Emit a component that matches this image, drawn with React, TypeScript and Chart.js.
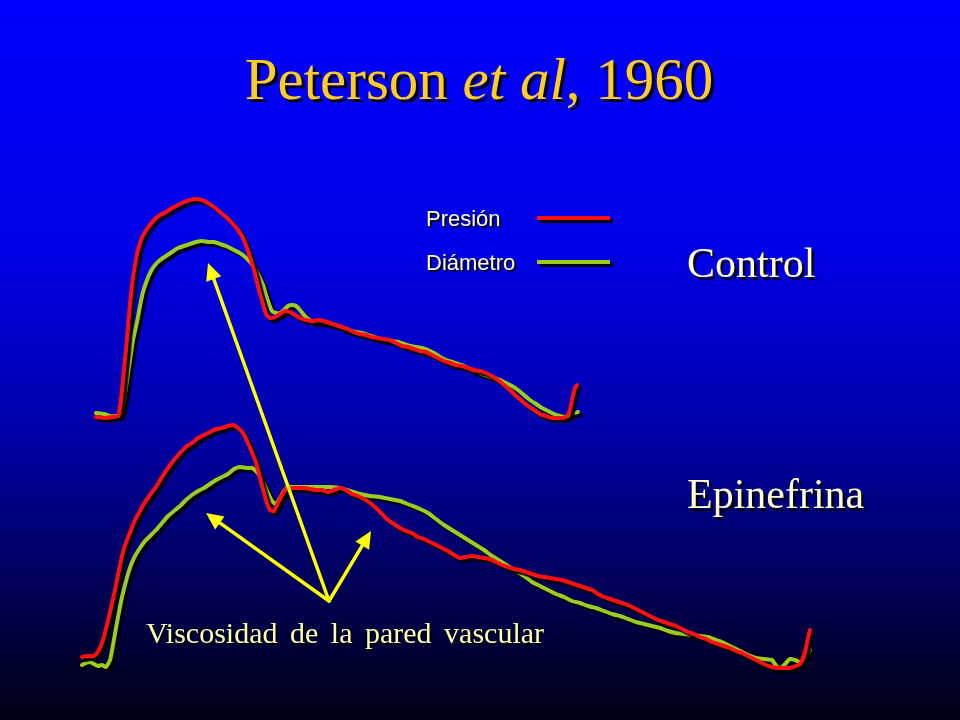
import { useEffect, useRef } from "react";
import { Chart, registerables } from "chart.js";

Chart.register(...registerables);

// Time (horizontal) / amplitude (vertical, downward) samples
const controlPresion: [number, number][] = [
  [96, 417], [104, 418], [112, 417], [118, 416], [121, 400], [123, 380], [126, 350], [129, 315], [132, 285], [135, 265],
  [138, 250], [141, 240], [145, 232], [150, 225], [155, 219], [160, 215], [166, 212], [172, 208], [178, 205], [184, 202],
  [190, 200], [196, 199], [202, 200], [208, 203], [214, 207], [220, 212], [226, 217], [232, 223], [238, 230], [243, 238],
  [247, 248], [251, 260], [255, 274], [259, 290], [263, 304], [266, 314], [270, 318], [275, 317], [280, 314], [285, 311],
  [290, 312], [295, 315], [300, 318], [306, 320], [312, 321], [318, 320], [324, 321], [330, 323], [336, 325], [342, 327],
  [348, 329], [354, 332], [360, 334], [366, 335], [372, 337], [378, 338], [384, 339], [390, 340], [396, 343], [402, 346],
  [408, 347], [414, 349], [420, 351], [426, 352], [432, 355], [438, 358], [444, 361], [450, 363], [456, 365], [462, 366],
  [468, 368], [474, 370], [480, 371], [486, 373], [492, 376], [498, 380], [504, 385], [510, 390], [516, 396], [522, 401],
  [528, 406], [534, 410], [540, 414], [546, 416], [552, 418], [558, 418], [563, 418], [567, 416], [570, 410], [572, 400],
  [575, 388], [577, 385],
];

const controlDiametro: [number, number][] = [
  [96, 413], [104, 414], [110, 416], [116, 416], [121, 414], [124, 400], [127, 380], [130, 360], [133, 340], [137, 322],
  [140, 306], [143, 292], [147, 280], [151, 271], [155, 265], [160, 260], [166, 256], [172, 252], [178, 248], [184, 246],
  [190, 244], [196, 242], [202, 241], [208, 242], [214, 242], [220, 244], [226, 246], [232, 249], [238, 252], [244, 256],
  [250, 262], [255, 268], [259, 276], [263, 285], [266, 295], [269, 304], [272, 311], [276, 313], [280, 313], [284, 310],
  [288, 306], [292, 305], [296, 306], [300, 310], [304, 315], [308, 319], [314, 322], [320, 322], [326, 323], [332, 324],
  [338, 326], [344, 329], [350, 331], [356, 332], [362, 333], [368, 335], [374, 337], [380, 339], [386, 340], [392, 341],
  [398, 342], [404, 344], [410, 346], [416, 347], [422, 348], [428, 350], [434, 353], [440, 357], [446, 360], [452, 362],
  [458, 364], [464, 366], [470, 369], [476, 372], [482, 374], [488, 376], [494, 378], [500, 380], [506, 383], [512, 386],
  [518, 390], [524, 395], [530, 400], [536, 404], [542, 408], [548, 411], [554, 414], [560, 416], [565, 417], [570, 415],
  [574, 413], [578, 412],
];

const epiPresion: [number, number][] = [
  [82, 657], [88, 656], [94, 656], [99, 650], [103, 640], [107, 625], [111, 608], [115, 590], [119, 570], [123, 552],
  [127, 540], [131, 530], [135, 520], [140, 511], [145, 502], [150, 495], [156, 487], [162, 477], [168, 468], [174, 460],
  [180, 453], [186, 447], [192, 443], [198, 438], [204, 435], [210, 432], [216, 429], [222, 428], [228, 426], [233, 425],
  [238, 428], [243, 433], [247, 441], [251, 450], [255, 460], [258, 470], [261, 482], [264, 493], [267, 503], [270, 510],
  [274, 511], [278, 503], [282, 495], [286, 489], [292, 488], [298, 488], [304, 488], [310, 489], [316, 490], [322, 490],
  [328, 492], [334, 490], [340, 488], [346, 490], [352, 494], [358, 496], [364, 499], [370, 503], [376, 508], [382, 514],
  [388, 520], [394, 524], [400, 528], [406, 531], [412, 533], [418, 537], [424, 539], [430, 542], [436, 545], [442, 548],
  [448, 551], [454, 555], [460, 558], [466, 557], [472, 556], [478, 557], [484, 558], [490, 559], [496, 562], [502, 565],
  [508, 567], [514, 569], [520, 570], [526, 572], [532, 574], [538, 576], [544, 577], [550, 578], [556, 579], [562, 580],
  [568, 582], [574, 584], [580, 586], [586, 588], [592, 590], [598, 594], [604, 597], [610, 599], [616, 601], [622, 603],
  [628, 605], [634, 608], [640, 611], [646, 614], [652, 617], [658, 620], [664, 622], [670, 624], [676, 626], [682, 629],
  [688, 632], [694, 634], [700, 637], [706, 639], [712, 642], [718, 644], [724, 646], [730, 648], [736, 651], [742, 653],
  [748, 656], [754, 659], [760, 662], [766, 665], [772, 667], [778, 668], [784, 668], [790, 668], [796, 666], [800, 664],
  [803, 658], [806, 648], [808, 638], [810, 630],
];

const epiDiametro: [number, number][] = [
  [82, 665], [86, 663], [90, 662], [94, 664], [98, 666], [102, 665], [106, 667], [110, 660], [113, 645], [116, 628],
  [119, 612], [122, 597], [125, 585], [128, 574], [131, 565], [135, 556], [140, 548], [145, 541], [150, 536], [156, 530],
  [162, 523], [168, 516], [174, 511], [180, 506], [186, 500], [192, 495], [198, 491], [204, 488], [210, 484], [216, 480],
  [222, 477], [228, 474], [234, 469], [240, 467], [246, 468], [252, 468], [256, 471], [260, 476], [264, 484], [268, 493],
  [272, 501], [276, 504], [280, 498], [284, 491], [288, 487], [294, 487], [300, 487], [310, 487], [320, 487], [330, 487],
  [340, 488], [350, 491], [360, 494], [370, 496], [380, 497], [390, 499], [400, 501], [410, 505], [420, 509], [428, 513],
  [436, 519], [444, 525], [452, 530], [460, 535], [468, 540], [476, 545], [484, 550], [492, 556], [500, 561], [508, 566],
  [516, 571], [524, 576], [532, 582], [540, 586], [548, 590], [556, 594], [564, 597], [572, 601], [580, 603], [588, 606],
  [596, 608], [604, 611], [612, 614], [620, 616], [628, 619], [636, 622], [644, 624], [652, 626], [660, 628], [668, 631],
  [676, 633], [684, 634], [692, 635], [700, 636], [708, 637], [716, 640], [724, 643], [732, 647], [740, 651], [748, 655],
  [756, 658], [764, 659], [772, 660], [777, 667], [781, 668], [786, 663], [790, 659], [795, 660], [800, 662], [805, 658],
  [810, 650],
];

const seriesLabels = ["Presión", "Diámetro"];
const seriesColors = ["#ff1010", "#9acd1e"];
const groupLabels = ["Control", "Epinefrina"];
const titleParts = ["Peterson ", "et al", ", 1960"];
const noteText = "Viscosidad de la pared vascular";
// arrow: apex (tail) and targets, in the same time/amplitude units
const arrowTail: [number, number] = [329, 601];
const arrowTips: [number, number][] = [[208, 263], [206, 513], [371, 531]];

const toPts = (a: [number, number][]) => a.map(([x, y]) => ({ x, y }));

const slidePlugin = {
  id: "slide",
  beforeDraw(chart: any) {
    const { ctx, width, height } = chart;
    const g = ctx.createLinearGradient(0, 0, 0, height);
    g.addColorStop(0, "#0000ff");
    g.addColorStop(0.35, "#0000e6");
    g.addColorStop(0.6, "#0000a8");
    g.addColorStop(0.85, "#00004a");
    g.addColorStop(1, "#000012");
    ctx.save();
    ctx.fillStyle = g;
    ctx.fillRect(0, 0, width, height);
    ctx.restore();
  },
  beforeDatasetDraw(chart: any) {
    const ctx = chart.ctx;
    ctx.save();
    ctx.shadowColor = "rgba(0,0,0,0.9)";
    ctx.shadowOffsetX = 3;
    ctx.shadowOffsetY = 3;
    ctx.shadowBlur = 1;
  },
  afterDatasetDraw(chart: any) {
    chart.ctx.restore();
  },
  afterDatasetsDraw(chart: any) {
    const ctx: CanvasRenderingContext2D = chart.ctx;
    const sx = chart.scales.x;
    const sy = chart.scales.y;
    const px = (v: number) => sx.getPixelForValue(v);
    const py = (v: number) => sy.getPixelForValue(v);

    const shadowText = (t: string, x: number, y: number, font: string, color: string, off: number) => {
      ctx.font = font;
      ctx.textBaseline = "alphabetic";
      ctx.textAlign = "left";
      ctx.fillStyle = "rgba(0,0,0,0.9)";
      ctx.fillText(t, x + off, y + off);
      ctx.fillStyle = color;
      ctx.fillText(t, x, y);
      return ctx.measureText(t).width;
    };

    ctx.save();
    // Title
    const serif = '"Liberation Serif", "Times New Roman", serif';
    const fonts = [`59px ${serif}`, `italic 59px ${serif}`, `59px ${serif}`];
    let total = 0;
    titleParts.forEach((p, i) => {
      ctx.font = fonts[i];
      total += ctx.measureText(p).width;
    });
    let tx = 479 - total / 2;
    titleParts.forEach((p, i) => {
      tx += shadowText(p, tx, 99, fonts[i], "#ffcc22", 3);
    });

    // Group labels
    shadowText(groupLabels[0], 687, 277, `42px ${serif}`, "#ffffcc", 2.5);
    shadowText(groupLabels[1], 687, 508, `42px ${serif}`, "#ffffcc", 2.5);

    // Note
    ctx.save();
    (ctx as any).wordSpacing = "5px";
    shadowText(noteText, 146, 643, `30px ${serif}`, "#ffffb0", 2);
    ctx.restore();

    // Legend
    const sans = '"Liberation Sans", Arial, sans-serif';
    const legY = [226, 270];
    seriesLabels.forEach((lab, i) => {
      shadowText(lab, 426, legY[i], `22px ${sans}`, "#ffffd0", 2);
      const ly = legY[i] - 8;
      ctx.lineWidth = 4;
      ctx.lineCap = "butt";
      ctx.strokeStyle = "rgba(0,0,0,0.9)";
      ctx.beginPath();
      ctx.moveTo(540, ly + 3);
      ctx.lineTo(613, ly + 3);
      ctx.stroke();
      ctx.strokeStyle = seriesColors[i];
      ctx.beginPath();
      ctx.moveTo(537, ly);
      ctx.lineTo(610, ly);
      ctx.stroke();
    });

    // Arrows
    ctx.strokeStyle = "#ffff00";
    ctx.fillStyle = "#ffff00";
    ctx.lineWidth = 3.5;
    ctx.lineCap = "round";
    const ax = px(arrowTail[0]);
    const ay = py(arrowTail[1]);
    arrowTips.forEach(([x, y]) => {
      const bx = px(x);
      const by = py(y);
      const ang = Math.atan2(by - ay, bx - ax);
      const hl = 17;
      const hw = 8;
      const baseX = bx - Math.cos(ang) * hl;
      const baseY = by - Math.sin(ang) * hl;
      ctx.beginPath();
      ctx.moveTo(ax, ay);
      ctx.lineTo(baseX, baseY);
      ctx.stroke();
      ctx.beginPath();
      ctx.moveTo(bx, by);
      ctx.lineTo(baseX + Math.sin(ang) * hw, baseY - Math.cos(ang) * hw);
      ctx.lineTo(baseX - Math.sin(ang) * hw, baseY + Math.cos(ang) * hw);
      ctx.closePath();
      ctx.fill();
    });
    ctx.restore();
  },
};

export default function App() {
  const ref = useRef<HTMLCanvasElement | null>(null);
  useEffect(() => {
    document.body.style.margin = "0";
    const canvas = ref.current;
    if (!canvas) return;
    const line = (data: [number, number][], color: string) => ({
      data: toPts(data),
      borderColor: color,
      backgroundColor: color,
      borderWidth: 4,
      pointRadius: 0,
      tension: 0.2,
      fill: false,
      borderJoinStyle: "round" as const,
      borderCapStyle: "round" as const,
    });
    const chart = new Chart(canvas, {
      type: "line",
      data: {
        datasets: [
          line(controlPresion, seriesColors[0]),
          line(controlDiametro, seriesColors[1]),
          line(epiPresion, seriesColors[0]),
          line(epiDiametro, seriesColors[1]),
        ],
      },
      options: {
        animation: false,
        responsive: false,
        devicePixelRatio: 1,
        events: [],
        layout: { padding: 0 },
        parsing: false as any,
        plugins: { legend: { display: false }, tooltip: { enabled: false } },
        scales: {
          x: { type: "linear", min: 0, max: 960, display: false },
          y: { type: "linear", min: 0, max: 720, reverse: true, display: false },
        },
      },
      plugins: [slidePlugin],
    });
    return () => chart.destroy();
  }, []);
  return (
    <div style={{ width: 960, height: 720 }}>
      <canvas ref={ref} width={960} height={720} style={{ display: "block" }} />
    </div>
  );
}
